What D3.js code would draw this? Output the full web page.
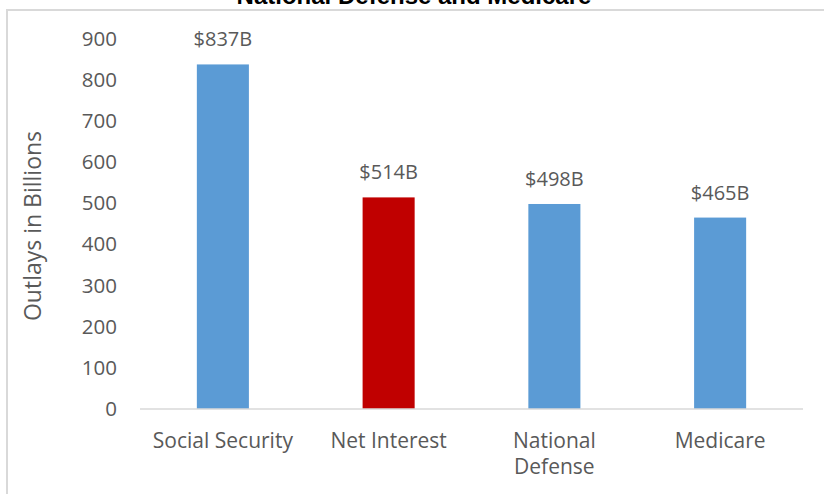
<!DOCTYPE html>
<html>
<head>
<meta charset="utf-8">
<script src="https://cdn.jsdelivr.net/npm/d3@7"></script>
<style>
  body { margin: 0; background: #fff; }
  svg { display: block; }
</style>
</head>
<body>
<svg id="chart" width="824" height="494"></svg>
<script>
// chart data
var categories = ["Social Security", "Net Interest", "National Defense", "Medicare"];
var outlays = [837, 514, 498, 465];
var valueLabels = ["$837B", "$514B", "$498B", "$465B"];
var barColors = ["#5b9bd5", "#c00000", "#5b9bd5", "#5b9bd5"];
var yTicks = [0, 100, 200, 300, 400, 500, 600, 700, 800, 900];

var svg = d3.select("#chart");
var font = "'Open Sans', 'Noto Sans', sans-serif";
var grey = "#595959";

// chart area border (top + left visible, rest cropped)
svg.append("path")
   .attr("d", "M7,494 L7,10 L824,10")
   .attr("fill", "none")
   .attr("stroke", "#d9d9d9")
   .attr("stroke-width", 2);

// title, mostly cropped off the top
svg.append("text")
   .attr("x", 414)
   .attr("y", 4)
   .attr("text-anchor", "middle")
   .style("font-family", "'Liberation Sans', Arial, sans-serif")
   .style("font-weight", "bold")
   .style("font-size", "24px")
   .attr("fill", "#000")
   .text("National Defense and Medicare");

var x = d3.scaleBand()
          .domain(categories)
          .range([140, 803])
          .paddingInner(0.686)
          .paddingOuter(0.343);

var y = d3.scaleLinear()
          .domain([0, 900])
          .range([409, 38.5]);

// y tick labels (no axis line, no gridlines)
var yAxis = svg.append("g")
               .attr("transform", "translate(117,0)")
               .call(d3.axisLeft(y).tickValues(yTicks).tickSize(0).tickPadding(0));
yAxis.select(".domain").remove();
yAxis.selectAll("text")
     .attr("fill", grey)
     .style("font-family", font)
     .style("font-size", "20.5px");

// bars
svg.append("g").selectAll("rect")
   .data(outlays)
   .enter()
   .append("rect")
   .attr("x", function(d, i) { return x(categories[i]); })
   .attr("y", function(d) { return y(d); })
   .attr("width", x.bandwidth())
   .attr("height", function(d) { return y(0) - y(d); })
   .attr("fill", function(d, i) { return barColors[i]; });

// category axis line
svg.append("line")
   .attr("x1", x.range()[0])
   .attr("x2", x.range()[1])
   .attr("y1", y(0))
   .attr("y2", y(0))
   .attr("stroke", "#d9d9d9")
   .attr("stroke-width", 1.5);

// data labels
svg.append("g").selectAll("text")
   .data(outlays)
   .enter()
   .append("text")
   .attr("x", function(d, i) { return x(categories[i]) + x.bandwidth() / 2; })
   .attr("y", function(d) { return y(d) - 18; })
   .attr("text-anchor", "middle")
   .attr("fill", grey)
   .style("font-family", font)
   .style("font-size", "20px")
   .text(function(d, i) { return valueLabels[i]; });

// category labels, wrap "National Defense" like the original
var catLabels = svg.append("g").selectAll("text")
   .data(categories)
   .enter()
   .append("text")
   .attr("x", function(d) { return x(d) + x.bandwidth() / 2; })
   .attr("y", 448)
   .attr("text-anchor", "middle")
   .attr("fill", grey)
   .style("font-family", font)
   .style("font-size", "21px");

catLabels.each(function(d) {
  var lines = d == "National Defense" ? ["National", "Defense"] : [d];
  var t = d3.select(this);
  lines.forEach(function(l, i) {
    t.append("tspan")
     .attr("x", t.attr("x"))
     .attr("dy", i == 0 ? 0 : 26)
     .text(l);
  });
});

// y axis title
svg.append("text")
   .attr("transform", "translate(41,226) rotate(-90)")
   .attr("text-anchor", "middle")
   .attr("fill", grey)
   .style("font-family", font)
   .style("font-size", "23px")
   .text("Outlays in Billions");
</script>
</body>
</html>
